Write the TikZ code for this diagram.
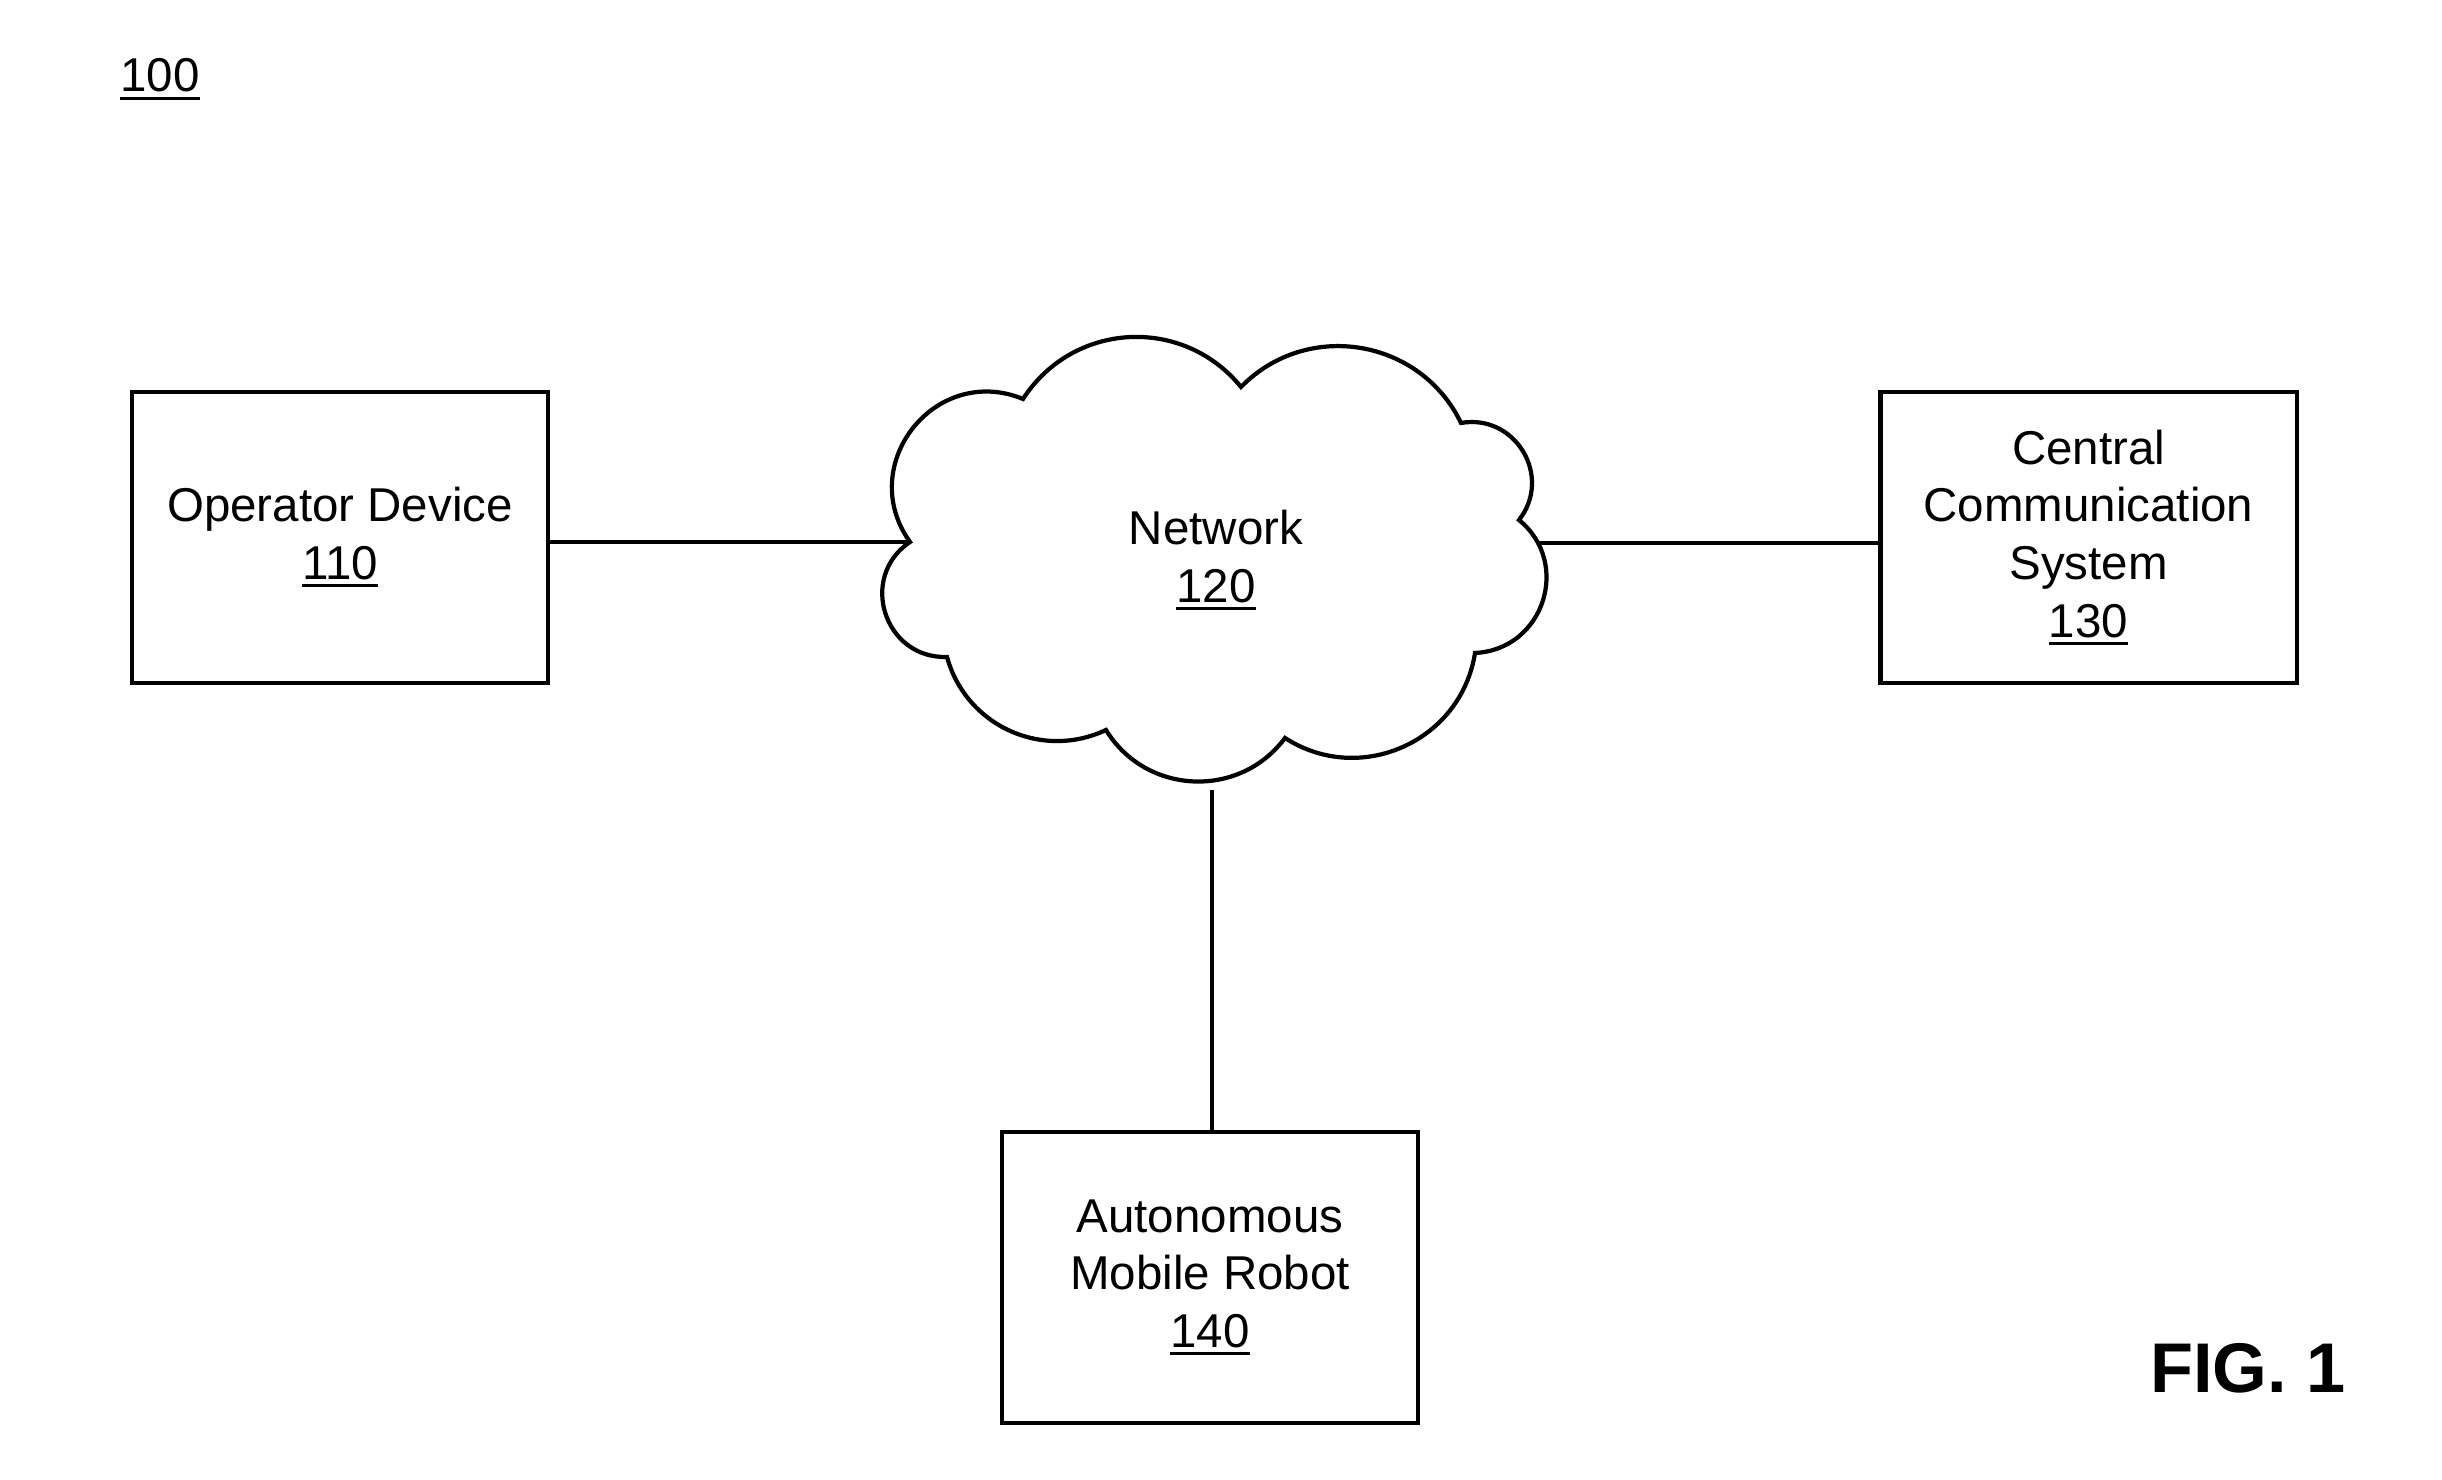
\documentclass[tikz,border=0pt]{standalone}
\usepackage{fontspec}
\setmainfont{Liberation Sans}
\newcommand{\refnum}[1]{\setbox0=\hbox{#1}\rlap{\rule[-2.2pt]{\wd0}{0.9pt}}\box0}

\begin{document}
\begin{tikzpicture}[
		x=0.01cm, y=0.01cm,
		font=\fontsize{13.5}{16.4}\selectfont,
		% Define styles
		block/.style={rectangle, draw, line width=1.2pt, align=center, minimum width=4.16cm, minimum height=2.91cm, inner sep=0pt},
		link/.style={line width=1.2pt},
		cloudline/.style={draw, line width=1.2pt, fill=white}
		]
		\useasboundingbox (0,0) rectangle (2442,1480);
		
		% 1. Figure labels
		\node[anchor=base] (fignum) at (160,1388) {\refnum{100}};
		\node[anchor=base, font=\fontsize{20}{24}\selectfont\bfseries] (figlabel) at (2248,87) {FIG. 1};
		
		% 2. The boxes
		\node[block] (op) at (340,942.5) {Operator Device\\\refnum{110}};
		\node[block] (ccs) at (2088.5,942.5) {Central\\Communication\\System\\\refnum{130}};
		\node[block] (robot) at (1210,202.5) {Autonomous\\Mobile Robot\\\refnum{140}};
		
		% 3. Cloud corners and connector ends
		\coordinate (c1) at (910,938);
		\coordinate (c2) at (1023,1081);
		\coordinate (c3) at (1241,1093);
		\coordinate (c4) at (1461,1057);
		\coordinate (c5) at (1519,960);
		\coordinate (c6) at (1475,827);
		\coordinate (c7) at (1285,742);
		\coordinate (c8) at (1106,750);
		\coordinate (c9) at (947,823);
		\coordinate (netE) at (1530,937);
		\coordinate (netS) at (1212,690);
		
		% Connections
		\draw[link] (op.east |- c1) -- (c1);
		\draw[link] (netE) -- (netE -| ccs.west);
		\draw[link] (netS) -- (netS |- robot.north);
		
		% 4. The network cloud
		\path[cloudline] (c1) to[bend left=74, looseness=1.33] (c2)
			to[bend left=54, looseness=1.08] (c3)
			to[bend left=55, looseness=1.08] (c4)
			to[bend left=69, looseness=1.25] (c5)
			to[bend left=69, looseness=1.25] (c6)
			to[bend left=57, looseness=1.10] (c7)
			to[bend left=56, looseness=1.09] (c8)
			to[bend left=50, looseness=1.04] (c9)
			to[bend left=74, looseness=1.33] (c1) -- cycle;
		\node[align=center] (net) at (1216,920) {Network\\\refnum{120}};
		
	\end{tikzpicture}
\end{document}
